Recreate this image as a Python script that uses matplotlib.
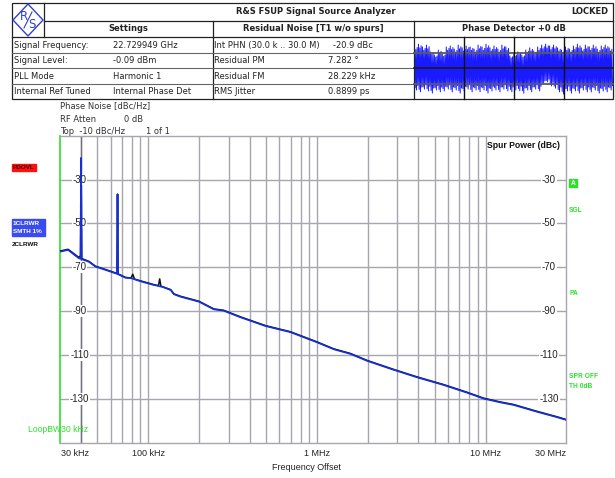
import numpy as np
import matplotlib.pyplot as plt
from matplotlib.patches import Rectangle, Polygon
from matplotlib.ticker import FixedLocator, NullFormatter

W, H = 615, 478

# phase noise trace: offset frequency (Hz) and level (dBc/Hz)
trace_f = [30.0e3, 33.5e3, 38.8e3, 39.7e3, 40.0e3, 40.3e3, 44.5e3, 48.7e3, 55.8e3,
           65.3e3, 65.8e3, 66.3e3, 73.4e3, 79e3, 81e3, 83e3, 92e3, 108e3, 115e3,
           117e3, 119e3, 121e3, 136e3, 142e3, 155e3, 200e3, 245e3, 280e3, 352e3,
           496e3, 697e3, 1.0e6, 1.26e6, 1.58e6, 1.99e6, 2.86e6, 3.93e6, 5.65e6,
           7.77e6, 9.76e6, 12.2e6, 14.7e6, 20.2e6, 26.6e6, 30.0e6]
trace_smth = [-62.9, -62.1, -65.9, -66.1, -20.2, -66.3, -67.5, -69.7, -71.2,
              -73.0, -36.7, -73.2, -74.8, -75.0, -75.2, -75.5, -76.6, -78.1, -78.5,
              -78.7, -78.8, -78.9, -80.4, -82.3, -83.4, -85.7, -89.2, -89.8, -92.8,
              -96.8, -99.6, -104.2, -107.4, -109.5, -112.7, -116.8, -120.2, -123.7,
              -127.2, -129.9, -131.6, -132.8, -135.9, -138.4, -139.6]
trace_raw = [-62.6, -61.8, -65.5, -64.7, -20.2, -66.0, -67.3, -69.5, -71.0,
             -72.8, -36.7, -73.0, -74.6, -74.9, -73.2, -75.4, -76.4, -77.9, -78.4,
             -75.3, -78.7, -78.8, -80.2, -82.1, -83.2, -85.5, -89.0, -89.6, -92.6,
             -96.6, -99.4, -104.0, -107.2, -109.3, -112.5, -116.6, -120.0, -123.5,
             -127.0, -129.7, -131.4, -132.6, -135.7, -138.2, -139.4]

y_ticks = [-30, -50, -70, -90, -110, -130]
x_ticks = [30e3, 100e3, 1e6, 10e6, 30e6]
x_tick_labels = ["30 kHz", "100 kHz", "1 MHz", "10 MHz", "30 MHz"]

# phase detector waveform, upper / lower swing (normalised)
wave_hi = [0.71, 0.77, 0.68, 0.74, 0.52, 0.42, 0.58, 0.45, 0.68, 0.71, 0.61, 0.74,
           0.65, 0.71, 0.68, 0.61, 0.74, 0.68, 0.77, 0.65, 0.71, 0.61, 0.74, 0.68,
           0.39, 0.45, 0.52, 0.42, 0.58, 0.65, 0.55, 0.68, 0.74, 0.77, 0.71, 0.74,
           0.65, 0.58, 0.68, 0.61, 0.71, 0.77, 0.65, 0.74, 0.68, 0.74, 0.61, 0.71,
           0.74, 0.65]
wave_lo = [-0.71, -0.77, -0.68, -0.74, -0.81, -0.71, -0.77, -0.74, -0.68, -0.77,
           -0.71, -0.81, -0.74, -0.68, -0.77, -0.71, -0.77, -0.71, -0.81, -0.74,
           -0.71, -0.77, -0.68, -0.74, -0.77, -0.71, -0.74, -0.81, -0.71, -0.77,
           -0.68, -0.74, -0.52, -0.45, -0.58, -0.65, -0.77, -0.84, -0.74, -0.81,
           -0.74, -0.81, -0.71, -0.77, -0.77, -0.71, -0.81, -0.74, -0.77, -0.71]

settings_names = ["Signal Frequency:", "Signal Level:", "PLL Mode", "Internal Ref Tuned"]
settings_vals = ["22.729949 GHz", "-0.09 dBm", "Harmonic 1", "Internal Phase Det"]
resid_names = ["Int PHN (30.0 k .. 30.0 M)", "Residual PM", "Residual FM", "RMS Jitter"]
resid_vals = ["-20.9 dBc", "7.282 \u00b0", "28.229 kHz", "0.8899 ps"]

GRID = "#a6a6ae"
GREEN = "#2ee02e"
BLUE = "#1530d8"

fig = plt.figure(figsize=(W / 100, H / 100), dpi=100)
fig.patch.set_facecolor("white")

af = "Liberation Sans"
tf = "DejaVu Sans"

# ---- main phase noise diagram ----
x0, x1, y0, y1 = 60, 566, 135.7, 442.7
ax = fig.add_axes([x0 / W, 1 - y1 / H, (x1 - x0) / W, (y1 - y0) / H])
ax.set_xscale("log")
ax.set_xlim(30e3, 30e6)
ax.set_ylim(-150, -10)
minors = [m * d for d in (1e4, 1e5, 1e6) for m in range(2, 10) if 30e3 < m * d < 30e6]
ax.xaxis.set_major_locator(FixedLocator([1e5, 1e6, 1e7]))
ax.xaxis.set_minor_locator(FixedLocator(minors))
ax.xaxis.set_minor_formatter(NullFormatter())
ax.yaxis.set_major_locator(FixedLocator(y_ticks))
ax.grid(True, which="both", axis="x", color=GRID, lw=1.0)
ax.grid(True, which="major", axis="y", color=GRID, lw=1.0)
ax.set_axisbelow(True)
ax.axvline(40e3, color="#70707e", lw=1.0, zorder=1)
ax.tick_params(which="both", length=0, labelbottom=False, labelleft=False)
for s in ("top", "bottom", "right"):
    ax.spines[s].set_color(GRID)
    ax.spines[s].set_linewidth(1.0)
ax.spines["left"].set_color(GREEN)
ax.spines["left"].set_linewidth(1.2)

# level labels sit inside the diagram, below the traces
ytr = ax.get_yaxis_transform()
for v in y_ticks:
    for xa in ((79.5 - x0) / (x1 - x0), (549 - x0) / (x1 - x0)):
        ax.text(xa, v, "-%d" % abs(v), transform=ytr, fontsize=7, family=af,
                ha="center", va="center", color="#222222", zorder=2,
                bbox=dict(facecolor="white", edgecolor="none", pad=0.6))

ax.plot(trace_f, trace_raw, color="#111111", lw=1.1, zorder=3)
ax.plot(trace_f, trace_smth, color=BLUE, lw=1.2, zorder=4)

# ---- overlay in pixel coordinates for table and annotations ----
ov = fig.add_axes([0, 0, 1, 1])
ov.set_xlim(0, W)
ov.set_ylim(H, 0)
ov.axis("off")
ov.patch.set_alpha(0)

# phase detector waveform: three strokes per sample, shortened ones give the ragged edge
cx0, cx1, cy_mid, half = 414.5, 612.5, 68.0, 31.0
hi = (np.array(wave_hi)[:, None] * np.array([1.0, 0.84, 0.93])).ravel()
lo = (np.array(wave_lo)[:, None] * np.array([0.9, 1.0, 0.8])).ravel()
wx = np.linspace(cx0, cx1, 2 * len(hi))
wy = np.empty(2 * len(hi))
wy[0::2] = cy_mid - hi * half
wy[1::2] = cy_mid - lo * half
ov.plot(wx, wy, color="#1a1aff", lw=0.7, zorder=2)

# table lines
line_kw = dict(color="#222222", lw=0.9, zorder=3)
ov.add_patch(Rectangle((12, 3), 601, 96, fill=False, ec="#222222", lw=0.9, zorder=3))
ov.plot([44, 44], [3, 37], **line_kw)
ov.plot([44, 613], [21, 21], **line_kw)
ov.plot([12, 613], [37, 37], **line_kw)
ov.plot([212.5, 212.5], [21, 99], **line_kw)
ov.plot([414, 414], [21, 99], **line_kw)
for yy in (52.7, 68.3, 84.0):
    ov.plot([12, 414], [yy, yy], color="#666666", lw=0.8, zorder=3)
ov.plot([414, 613], [52.7, 52.7], color="#5a5a5a", lw=1.3, zorder=3)
ov.plot([414, 613], [68.3, 68.3], color="#1a1a1a", lw=1.2, zorder=3)
ov.plot([414, 613], [84.0, 84.0], color="#5a5a5a", lw=1.3, zorder=3)
for xx in (464.3, 514.3, 564.3):
    ov.plot([xx, xx], [37, 99], color="#111111", lw=1.0, zorder=3)

# logo
ov.add_patch(Polygon([(28, 4), (43, 20), (28, 36), (13, 20)], closed=True,
                     fill=False, ec="#3040d0", lw=1.0, zorder=3))
ov.text(23.5, 16.5, "R", color="#3040d0", fontsize=8.5, family=tf,
        ha="center", va="center")
ov.text(32, 24, "S", color="#3040d0", fontsize=8.5, family=tf,
        ha="center", va="center")
ov.plot([24, 32], [28, 12], color="#3040d0", lw=0.8)

ov.text(316, 11.5, "R&S FSUP Signal Source Analyzer", fontsize=6, family=tf,
        weight="bold", ha="center", va="center", color="#222222")
ov.text(608, 11.5, "LOCKED", fontsize=6, family=tf, weight="bold",
        ha="right", va="center", color="#222222")
for xc, s in ((128, "Settings"), (313, "Residual Noise [T1 w/o spurs]"),
              (513.5, "Phase Detector +0 dB")):
    ov.text(xc, 28.5, s, fontsize=6, family=tf, weight="bold",
            ha="center", va="center", color="#222222")

row_y = [45, 60.5, 76, 91.5]
for i, yy in enumerate(row_y):
    ov.text(14, yy, settings_names[i], fontsize=6, family=tf, va="center", color="#222222")
    ov.text(113, yy, settings_vals[i], fontsize=6, family=tf, va="center", color="#222222")
    ov.text(214, yy, resid_names[i], fontsize=6, family=tf, va="center", color="#222222")
    ov.text(333 if i == 0 else 328, yy, resid_vals[i], fontsize=6, family=tf,
            va="center", color="#222222")

# diagram header
hk = dict(fontsize=6, family=tf, va="center", color="#333333")
ov.text(60, 105.5, "Phase Noise [dBc/Hz]", **hk)
ov.text(60, 119, "RF Atten", **hk)
ov.text(124, 119, "0 dB", **hk)
ov.text(60, 131.5, "Top  -10 dBc/Hz", **hk)
ov.text(145.5, 131.5, "1 of 1", **hk)

# trace status labels on the left
ov.add_patch(Rectangle((12.3, 164), 23.4, 7, color="#ff1010", zorder=3))
ov.text(13, 167.6, "PDOVL", fontsize=4.6, family=af, weight="bold",
        va="center", color="#3a0000", zorder=4)
ov.add_patch(Rectangle((12, 219), 32.5, 16.5, color="#3a4cf0", zorder=3))
ov.text(13, 223, "1CLRWR", fontsize=4.6, family=af, weight="bold",
        va="center", color="white", zorder=4)
ov.text(13, 231.5, "SMTH 1%", fontsize=4.6, family=af, weight="bold",
        va="center", color="white", zorder=4)
ov.text(12, 244, "2CLRWR", fontsize=4.6, family=af, weight="bold",
        va="center", color="#111111")

# right side labels
ov.text(487, 146, "Spur Power (dBc)", fontsize=6.2, family=af, weight="bold",
        va="center", color="#111111")
ov.add_patch(Rectangle((569.3, 179.3), 7.4, 7.4, color=GREEN, zorder=3))
ov.text(573, 183.2, "A", fontsize=4.8, family=af, weight="bold",
        ha="center", va="center", color="white", zorder=4)
gk = dict(fontsize=4.8, family=af, weight="bold", va="center", color=GREEN)
ov.text(569, 211, "SGL", **gk)
ov.text(569, 293.3, "PA", **gk)
ov.text(569, 377, "SPR OFF", **gk)
ov.text(569, 386.3, "TH 0dB", **gk)
ov.text(27.5, 430, "LoopBW30 kHz", fontsize=6.2, family=af, va="center", color=GREEN)

# x tick labels
for f, s in zip(x_ticks, x_tick_labels):
    xp = x0 + np.log10(f / 30e3) / 3.0 * (x1 - x0)
    ha = "center"
    if f == x_ticks[0]:
        ha = "left"
        xp += 1
    elif f == x_ticks[-1]:
        ha = "right"
    ov.text(xp, 454, s, fontsize=6.5, family=af, ha=ha, va="center", color="#222222")
ov.text(306, 468, "Frequency Offset", fontsize=6.5, family=af, ha="center",
        va="center", color="#222222")

fig.savefig("out.png", dpi=100)
